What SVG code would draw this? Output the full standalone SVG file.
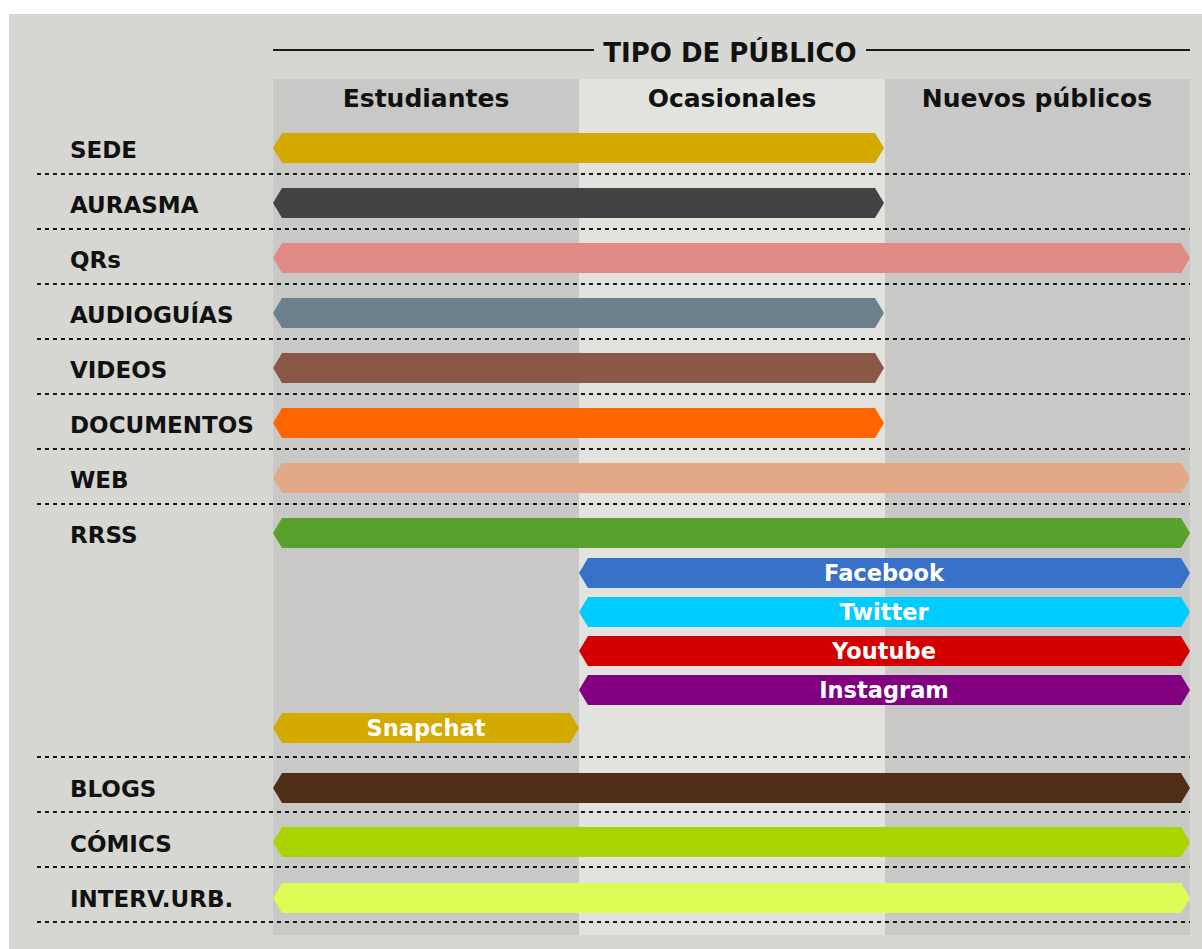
<svg xmlns="http://www.w3.org/2000/svg" width="1202" height="949" viewBox="0 0 1202 949">
<style>
.lbl{font-family:"DejaVu Sans","Liberation Sans",sans-serif;font-weight:bold;font-size:23px;fill:#111}
.hdr{font-family:"DejaVu Sans","Liberation Sans",sans-serif;font-weight:bold;font-size:25px;fill:#111;text-anchor:middle}
.ttl{font-family:"DejaVu Sans","Liberation Sans",sans-serif;font-weight:bold;font-size:26px;fill:#111;text-anchor:middle}
.sub{font-family:"DejaVu Sans","Liberation Sans",sans-serif;font-weight:bold;font-size:22.5px;fill:#fff;text-anchor:middle}
.dot{stroke:#1a1a1a;stroke-width:2.2;stroke-dasharray:4 4;fill:none}
</style>
<rect x="0" y="0" width="1202" height="949" fill="#ffffff"/>
<rect x="9" y="14" width="1193" height="935" fill="#d6d6d2"/>
<g id="columns">
<rect x="273" y="79" width="306" height="856" fill="#c8c8c6"/>
<rect x="579" y="79" width="306" height="856" fill="#e2e2df"/>
<rect x="885" y="79" width="305" height="856" fill="#c8c8c6"/>
</g>
<g id="title">
<line x1="273" y1="50" x2="594" y2="50" stroke="#1a1a1a" stroke-width="2"/>
<line x1="866" y1="50" x2="1190" y2="50" stroke="#1a1a1a" stroke-width="2"/>
<text class="ttl" x="730" y="62">TIPO DE PÚBLICO</text>
<text class="hdr" x="426" y="107">Estudiantes</text>
<text class="hdr" x="732" y="107">Ocasionales</text>
<text class="hdr" x="1037" y="107">Nuevos públicos</text>
</g>
<g id="connectors">
<line class="dot" x1="37" y1="174" x2="1190" y2="174"/>
<line class="dot" x1="37" y1="229" x2="1190" y2="229"/>
<line class="dot" x1="37" y1="284" x2="1190" y2="284"/>
<line class="dot" x1="37" y1="339" x2="1190" y2="339"/>
<line class="dot" x1="37" y1="394" x2="1190" y2="394"/>
<line class="dot" x1="37" y1="449" x2="1190" y2="449"/>
<line class="dot" x1="37" y1="504" x2="1190" y2="504"/>
<line class="dot" x1="37" y1="757" x2="1190" y2="757"/>
<line class="dot" x1="37" y1="812" x2="1190" y2="812"/>
<line class="dot" x1="37" y1="867" x2="1190" y2="867"/>
<line class="dot" x1="37" y1="922" x2="1190" y2="922"/>
</g>
<g id="sede"><text class="lbl" x="70" y="158">SEDE</text><polygon fill="#d4aa00" points="273,148 282,133 875,133 884,148 875,163 282,163"/></g>
<g id="aurasma"><text class="lbl" x="70" y="213">AURASMA</text><polygon fill="#424345" points="273,203 282,188 875,188 884,203 875,218 282,218"/></g>
<g id="qrs"><text class="lbl" x="70" y="268">QRs</text><polygon fill="#e08b87" points="273,258 282,243 1181,243 1190,258 1181,273 282,273"/></g>
<g id="audioguias"><text class="lbl" x="70" y="323">AUDIOGUÍAS</text><polygon fill="#6a808a" points="273,313 282,298 875,298 884,313 875,328 282,328"/></g>
<g id="videos"><text class="lbl" x="70" y="378">VIDEOS</text><polygon fill="#8b5746" points="273,368 282,353 875,353 884,368 875,383 282,383"/></g>
<g id="documentos"><text class="lbl" x="70" y="433">DOCUMENTOS</text><polygon fill="#ff6600" points="273,423 282,408 875,408 884,423 875,438 282,438"/></g>
<g id="web"><text class="lbl" x="70" y="488">WEB</text><polygon fill="#e2a887" points="273,478 282,463 1181,463 1190,478 1181,493 282,493"/></g>
<g id="rrss"><text class="lbl" x="70" y="543">RRSS</text><polygon fill="#5aa02c" points="273,533 282,518 1181,518 1190,533 1181,548 282,548"/></g>
<g id="facebook"><polygon fill="#3771c8" points="579,573 588,558 1181,558 1190,573 1181,588 588,588"/><text class="sub" x="884" y="581">Facebook</text></g>
<g id="twitter"><polygon fill="#00ccff" points="579,612 588,597 1181,597 1190,612 1181,627 588,627"/><text class="sub" x="884" y="620">Twitter</text></g>
<g id="youtube"><polygon fill="#d40000" points="579,651 588,636 1181,636 1190,651 1181,666 588,666"/><text class="sub" x="884" y="659">Youtube</text></g>
<g id="instagram"><polygon fill="#800080" points="579,690 588,675 1181,675 1190,690 1181,705 588,705"/><text class="sub" x="884" y="698">Instagram</text></g>
<g id="snapchat"><polygon fill="#d4aa00" points="273,728 282,713 570,713 579,728 570,743 282,743"/><text class="sub" x="426" y="736">Snapchat</text></g>
<g id="blogs"><text class="lbl" x="70" y="797">BLOGS</text><polygon fill="#502d16" points="273,788 282,773 1181,773 1190,788 1181,803 282,803"/></g>
<g id="comics"><text class="lbl" x="70" y="852">CÓMICS</text><polygon fill="#aad400" points="273,842 282,827 1181,827 1190,842 1181,857 282,857"/></g>
<g id="intervurb"><text class="lbl" x="70" y="907">INTERV.URB.</text><polygon fill="#ddfb55" points="273,898 282,883 1181,883 1190,898 1181,913 282,913"/></g>
</svg>
